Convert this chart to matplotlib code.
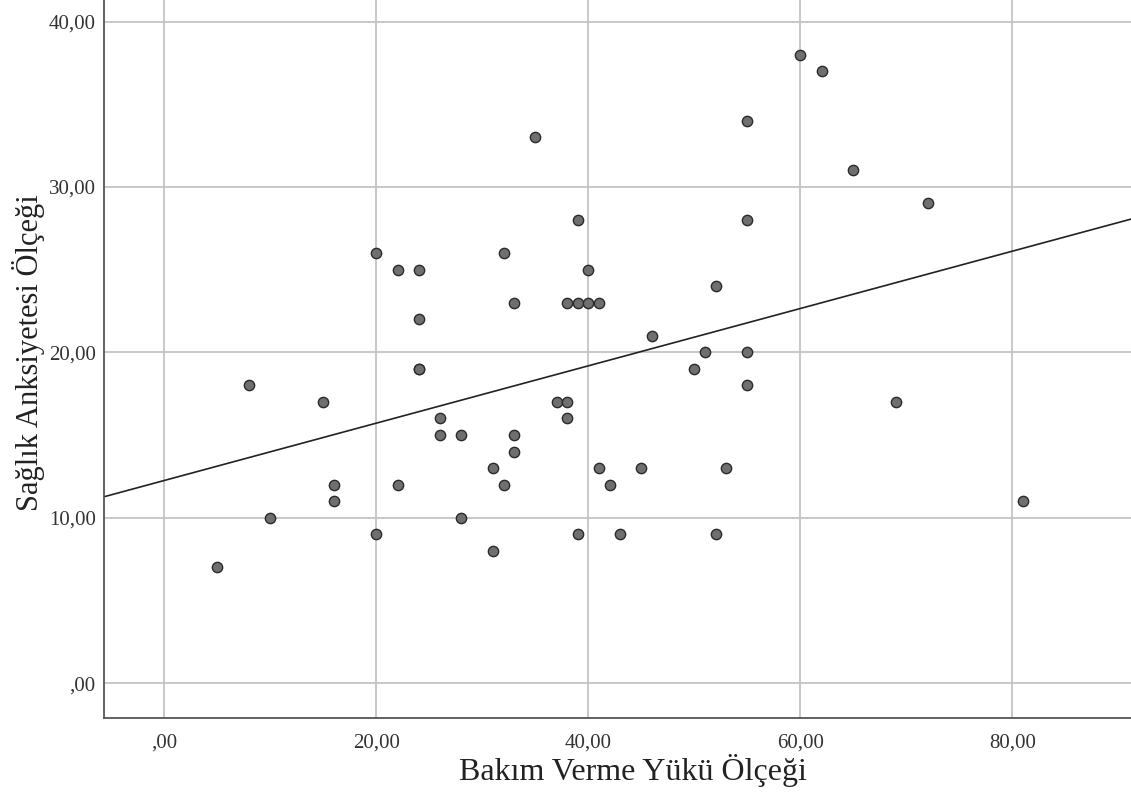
import matplotlib
matplotlib.use("Agg")
import matplotlib.pyplot as plt
import numpy as np

# Bakım Verme Yükü Ölçeği (x) vs Sağlık Anksiyetesi Ölçeği (y)
bakim = [5, 8, 10, 15, 16, 16, 20, 20, 22, 22, 24, 24, 24, 24, 26, 26, 28, 28,
         31, 31, 32, 32, 33, 33, 33, 35, 37, 38, 38, 38, 39, 39, 39, 40, 40,
         41, 41, 42, 43, 45, 46, 50, 51, 52, 52, 53, 55, 55, 55, 55, 60, 62,
         65, 69, 72, 81]
saglik = [7, 18, 10, 17, 12, 11, 9, 26, 25, 12, 25, 22, 19, 19, 16, 15, 15, 10,
          13, 8, 26, 12, 23, 15, 14, 33, 17, 23, 17, 16, 28, 23, 9, 25, 23,
          23, 13, 12, 9, 13, 21, 19, 20, 24, 9, 13, 34, 28, 20, 18, 38, 37,
          31, 17, 29, 11]

x_ticks = [0, 20, 40, 60, 80]
y_ticks = [0, 10, 20, 30, 40]

plt.rcParams['font.family'] = ['Liberation Serif', 'DejaVu Serif']

fig = plt.figure(figsize=(11.31, 7.95), dpi=100)
ax = fig.add_axes([0.092, 0.097, 0.908, 0.903])

ax.set_xlim(-5.7, 91.2)
ax.set_ylim(-2.1, 41.3)

# grid
for t in x_ticks:
    ax.axvline(t, color='#c4c4c4', lw=1.3, zorder=0)
for t in y_ticks:
    ax.axhline(t, color='#c4c4c4', lw=1.3, zorder=0)

ax.scatter(bakim, saglik, s=55, facecolor='#6f6f6f', edgecolor='#2a2a2a',
           linewidth=1.0, zorder=3)

# regresyon doğrusu
b, a = np.polyfit(bakim, saglik, 1)
xs = np.array(ax.get_xlim())
ax.plot(xs, a + b * xs, color='#222222', lw=1.2, zorder=2)

ax.set_xticks(x_ticks)
ax.set_yticks(y_ticks)
fmt = lambda v: ',00' if v == 0 else f'{v},00'
ax.set_xticklabels([fmt(v) for v in x_ticks])
ax.set_yticklabels([fmt(v) for v in y_ticks])
ax.tick_params(length=0, labelsize=15, colors='#333333')
ax.tick_params(axis='x', pad=11)
ax.tick_params(axis='y', pad=6)

for s in ['top', 'right']:
    ax.spines[s].set_visible(False)
for s in ['left', 'bottom']:
    ax.spines[s].set_color('#555555')
    ax.spines[s].set_linewidth(1.3)

fig.text(0.56, 0.031, 'Bakım Verme Yükü Ölçeği', fontsize=23, color='#222222',
         ha='center', va='center')
fig.text(0.025, 0.557, 'Sağlık Anksiyetesi Ölçeği', fontsize=22, color='#222222',
         ha='center', va='center', rotation=90)

fig.savefig('out.png', dpi=100)
